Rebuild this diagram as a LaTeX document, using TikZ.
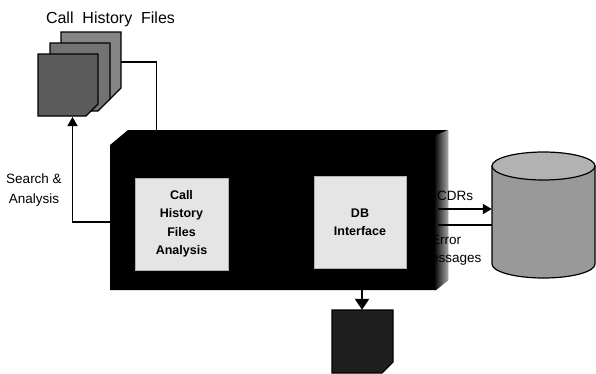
\documentclass[tikz,border=0pt]{standalone}
\usepackage{fontspec}
\setmainfont{Liberation Sans}
\usetikzlibrary{arrows.meta}
\definecolor{sheetA}{gray}{0.36}
\definecolor{sheetB}{gray}{0.45}
\definecolor{sheetC}{gray}{0.52}
\definecolor{drum}{gray}{0.60}
\definecolor{drumtop}{gray}{0.70}
\definecolor{panel}{gray}{0.90}
\tikzset{
  sheet/.style={draw=black,line width=1.2pt},
  conn/.style={draw=black,line width=1.1pt},
  heavy/.style={draw=black,line width=1.5pt,-{Triangle[length=9pt,width=10pt]}},
  panelbox/.style={fill=panel,draw=gray!60,line width=.4pt,minimum width=92pt,minimum height=92pt,inner sep=0pt},
  lbl/.style={font=\fontsize{16}{18}\selectfont,inner sep=0pt,align=center},
  smalllbl/.style={font=\fontsize{13.5}{20}\selectfont,inner sep=0pt,align=center},
  inlbl/.style={font=\fontsize{12.5}{18.5}\bfseries\selectfont,inner sep=0pt,align=center,text=black}
}
\begin{document}
\begin{tikzpicture}[x=1pt,y=-1pt]
\useasboundingbox (0,0) rectangle (596,373);
% stack of files
\fill[sheetC,sheet] (61,32) -- (121,32) -- (121,88) -- (109,100) -- (61,100) -- cycle;
\fill[sheetB,sheet] (50,43) -- (110,43) -- (110,99) -- (98,111) -- (50,111) -- cycle;
\fill[sheetA,sheet] (38,54) -- (98,54) -- (98,104) -- (86,116) -- (38,116) -- cycle;
\node[inner sep=0pt,minimum width=83pt,minimum height=84pt] (files) at (79.5,74) {};
\node[lbl] (filestitle) at (110.5,19) {Call\ \ History\ \ Files};
% main box
\fill[black] (110,145) -- (128,130) -- (448,130) -- (448,280) -- (436,290) -- (110,290) -- cycle;
\shade[left color=black,right color=gray!70] (434,136) -- (448,130) -- (448,280) -- (436,290) -- (434,290) -- cycle;
\node[inner sep=0pt,minimum width=338pt,minimum height=160pt] (main) at (279,210) {};
\node[panelbox,minimum width=93pt] (analysis) at (181.5,224) {};
\node[panelbox] (dbif) at (360,222.5) {};
\node[inlbl] at (analysis) {Call\\History\\Files\\Analysis};
\node[inlbl] at (dbif) {DB\\Interface};
% cylinder
\fill[drum,sheet] (492,166) -- (492,264) arc[start angle=180,end angle=0,x radius=51.5,y radius=14] -- (595,166) -- cycle;
\fill[drumtop,draw=black,line width=1.2pt] (543.5,166) ellipse[x radius=51.5,y radius=14];
\node[inner sep=0pt,minimum width=103pt,minimum height=126pt] (store) at (543.5,215) {};
% bottom document
\fill[black!88,sheet] (332,310) -- (393,310) -- (393,362) -- (382,373) -- (332,373) -- cycle;
\node[inner sep=0pt,minimum width=61pt,minimum height=63pt] (report) at (362.5,341.5) {};
% connectors
\coordinate (mainoutA) at (438,209);
\coordinate (mainoutB) at (438,225);
\draw[conn] (files.east |- 0,62) -- (156.5,62) -- (156.5,130);
\draw[heavy] (main.west |- 0,222) -- (72.5,222) -- (72.5,117);
\draw[heavy] (mainoutA) -- (store.west |- mainoutA);
\draw[draw=black,line width=1.8pt] (mainoutB) -- (store.west |- mainoutB);
\draw[heavy,line width=2.5pt,-{Triangle[length=11pt,width=14pt]}] (362,290) -- (report.north -| 362,0);
% labels
\node[smalllbl] (search) at (34,190) {Search \&\\Analysis};
\node[smalllbl,anchor=west] (cdrs) at (437,196) {CDRs};
\node[smalllbl,anchor=west] (err) at (431,240) {Error};
\node[smalllbl,anchor=east] (msgs) at (481.5,259) {Messages};
\end{tikzpicture}
\end{document}
